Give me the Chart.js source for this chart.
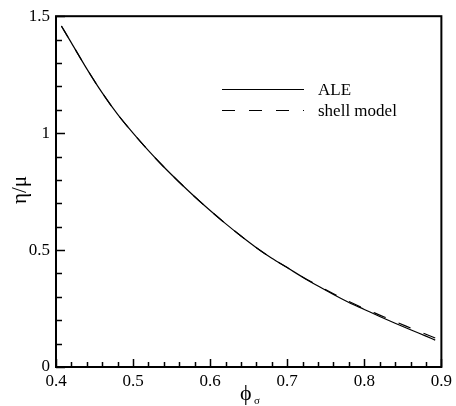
<!DOCTYPE html>
<html>
<head>
<meta charset="utf-8">
<script src="https://cdn.jsdelivr.net/npm/chart.js@4/dist/chart.umd.min.js"></script>
<style>
  html, body { margin: 0; padding: 0; background: #fff; }
  #wrap { width: 456px; height: 406px; }
</style>
</head>
<body>
<div id="wrap"><canvas id="chart" width="456" height="406"></canvas></div>
<script>
// volume fraction phi_sigma
const phi = [0.407, 0.42, 0.44, 0.46, 0.48, 0.50, 0.52, 0.54, 0.56, 0.58, 0.60, 0.62, 0.64,
  0.66, 0.68, 0.70, 0.72, 0.74, 0.76, 0.78, 0.80, 0.82, 0.84, 0.86, 0.88, 0.892];
// eta/mu, ALE
const aleVals = [1.458, 1.386, 1.275, 1.172, 1.08, 1.0, 0.925, 0.855, 0.79, 0.728, 0.669, 0.613, 0.56,
  0.51, 0.465, 0.425, 0.384, 0.346, 0.31, 0.276, 0.246, 0.216, 0.187, 0.159, 0.132, 0.115];
// eta/mu, shell model
const shellVals = [1.458, 1.386, 1.275, 1.172, 1.08, 1.0, 0.925, 0.855, 0.79, 0.728, 0.669, 0.613, 0.56,
  0.51, 0.465, 0.425, 0.385, 0.348, 0.313, 0.28, 0.25, 0.222, 0.194, 0.167, 0.14, 0.124];
const seriesNames = ['ALE', 'shell model'];

const xTicks = [0.4, 0.5, 0.6, 0.7, 0.8, 0.9];
const yTicks = [0, 0.5, 1, 1.5];

const FONT = '"Liberation Serif", "Times New Roman", serif';

const toPts = vals => phi.map((x, i) => ({ x: x, y: vals[i] }));

// frame, inward ticks, legend and axis titles
const decor = {
  id: 'decor',
  afterDraw(chart) {
    const c = chart.ctx;
    const xs = chart.scales.x, ys = chart.scales.y;
    const a = chart.chartArea;
    c.save();
    c.strokeStyle = '#000';
    c.lineWidth = 2;
    c.strokeRect(a.left, a.top, a.right - a.left, a.bottom - a.top);

    c.lineWidth = 1.5;
    c.beginPath();
    for (let v = 0.4; v <= 0.9001; v += 0.02) {
      const px = Math.round(xs.getPixelForValue(v)) + 0.5;
      const major = Math.abs(v * 10 - Math.round(v * 10)) < 1e-6;
      c.moveTo(px, a.bottom);
      c.lineTo(px, a.bottom - (major ? 8 : 5));
    }
    for (let v = 0; v <= 1.5001; v += 0.1) {
      const py = Math.round(ys.getPixelForValue(v)) + 0.5;
      const major = Math.abs(v * 2 - Math.round(v * 2)) < 1e-6;
      c.moveTo(a.left, py);
      c.lineTo(a.left + (major ? 9 : 6), py);
    }
    c.stroke();

    // legend
    c.font = '17px ' + FONT;
    c.fillStyle = '#000';
    c.textBaseline = 'middle';
    chart.data.datasets.forEach((ds, i) => {
      const y = 89.5 + i * 21;
      c.lineWidth = 1.2;
      c.setLineDash(ds.borderDash || []);
      c.beginPath();
      c.moveTo(222, y);
      c.lineTo(304, y);
      c.stroke();
      c.setLineDash([]);
      c.fillText(ds.label, 318, y + 1);
    });

    // y title
    c.save();
    c.translate(20, 190);
    c.rotate(-Math.PI / 2);
    c.textAlign = 'center';
    c.font = '21px ' + FONT;
    c.fillText('η/μ', 0, 0);
    c.restore();

    // x title
    c.textAlign = 'left';
    c.textBaseline = 'alphabetic';
    c.font = '22px ' + FONT;
    c.fillText('ϕ', 240, 400);
    c.font = '11px ' + FONT;
    c.fillText('σ', 254, 404);
    c.restore();
  }
};

new Chart(document.getElementById('chart'), {
  type: 'line',
  data: {
    datasets: [
      {
        label: seriesNames[0],
        data: toPts(aleVals),
        borderColor: '#000',
        borderWidth: 1.2,
        pointRadius: 0,
        cubicInterpolationMode: 'monotone',
        fill: false
      },
      {
        label: seriesNames[1],
        data: toPts(shellVals),
        borderColor: '#000',
        borderWidth: 1.2,
        borderDash: [13, 14],
        pointRadius: 0,
        cubicInterpolationMode: 'monotone',
        fill: false
      }
    ]
  },
  options: {
    responsive: false,
    animation: false,
    layout: { padding: { left: 0, top: 13, right: 12, bottom: 0 } },
    plugins: {
      legend: { display: false },
      tooltip: { enabled: false }
    },
    scales: {
      x: {
        type: 'linear',
        min: 0.4,
        max: 0.9,
        afterBuildTicks: s => { s.ticks = xTicks.map(v => ({ value: v })); },
        afterFit: s => { s.height = 39; },
        grid: { display: false, drawTicks: false, tickLength: 0 },
        border: { display: false },
        ticks: {
          color: '#000',
          padding: 4,
          maxRotation: 0,
          font: { family: FONT, size: 17 },
          callback: v => String(v)
        }
      },
      y: {
        type: 'linear',
        min: 0,
        max: 1.5,
        afterBuildTicks: s => { s.ticks = yTicks.map(v => ({ value: v })); },
        afterFit: s => { s.width = 56; },
        grid: { display: false, drawTicks: false, tickLength: 0 },
        border: { display: false },
        ticks: {
          color: '#000',
          padding: 6,
          font: { family: FONT, size: 17 },
          callback: v => String(v)
        }
      }
    }
  },
  plugins: [decor]
});
</script>
</body>
</html>
